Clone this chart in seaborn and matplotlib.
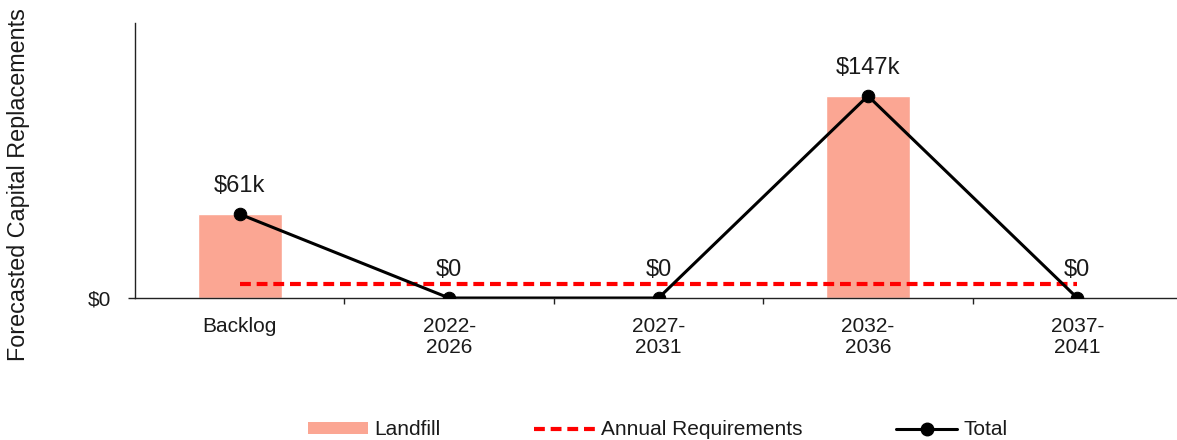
import matplotlib
matplotlib.use("Agg")
import matplotlib.pyplot as plt
from matplotlib.patches import Patch
from matplotlib.lines import Line2D
from matplotlib.ticker import FixedLocator
import numpy as np
import pandas as pd
import seaborn as sns

# Forecast periods and values (thousands of dollars)
categories = ["Backlog", "2022-\n2026", "2027-\n2031", "2032-\n2036", "2037-\n2041"]
landfill = [61, 0, 0, 147, 0]
total = [61, 0, 0, 147, 0]
annual_requirement = 10.4
value_labels = ["$61k", "$0", "$0", "$147k", "$0"]

sns.set_theme(style="white")
plt.rcParams["font.family"] = ["Liberation Sans", "DejaVu Sans"]

fig = plt.figure(figsize=(11.77, 4.4), dpi=100)
ax = fig.add_axes([0.1147, 0.3227, 0.8853, 0.625])

df = pd.DataFrame({"period": categories, "landfill": landfill, "total": total,
                   "pos": np.arange(len(categories))})

bar_color = "#FBA693"
text_color = "#1a1a1a"
sns.barplot(data=df, x="period", y="landfill", color=bar_color, width=0.4,
            saturation=1, ax=ax)

# Annual requirement spanning from first to last period
dash = (0, (2.6, 1.4))
ax.plot([df["pos"].iloc[0], df["pos"].iloc[-1]], [annual_requirement] * 2,
        color="#FF0000", lw=3, linestyle=dash, zorder=3)

sns.lineplot(data=df, x="pos", y="total", color="black", lw=2.2, marker="o",
             markersize=9, markeredgecolor="black", ax=ax, zorder=4)

for pos, val, lab in zip(df["pos"], total, value_labels):
    ax.annotate(lab, (pos, val), xytext=(0, 20), textcoords="offset points",
                ha="center", va="center", fontsize=17, color=text_color)

ax.set_xlim(-0.5, 4.476)
ax.set_ylim(0, 200)
ax.set_yticks([0])
ax.set_yticklabels(["$0"], fontsize=15, color=text_color)
ax.set_xticks(df["pos"])
ax.set_xticklabels(categories, fontsize=15, color=text_color, linespacing=1.12)
ax.xaxis.set_minor_locator(FixedLocator([0.5, 1.5, 2.5, 3.5]))
ax.tick_params(axis="x", which="major", length=0, pad=14)
ax.tick_params(axis="x", which="minor", bottom=True, length=4, width=1, color="#222222")
ax.tick_params(axis="y", left=True, length=5, width=1, color="#222222", pad=12)
ax.set_xlabel("")
ax.set_ylabel("")

for side in ["top", "right"]:
    ax.spines[side].set_visible(False)
for side in ["left", "bottom"]:
    ax.spines[side].set_color("#222222")
    ax.spines[side].set_linewidth(1)

fig.text(0.016, 0.58, "Forecasted Capital Replacements", rotation=90,
         ha="center", va="center", fontsize=16.8, color=text_color)

handles = [
    Patch(facecolor=bar_color, edgecolor="none"),
    Line2D([], [], color="#FF0000", lw=3, linestyle=dash),
    Line2D([], [], color="black", lw=2.2, marker="o", markersize=9),
]
leg = fig.legend(handles, ["Landfill", "Annual Requirements", "Total"], loc="center",
                 bbox_to_anchor=(0.5586, 0.023), ncol=3, frameon=False,
                 prop={"size": 15}, handlelength=2.9, handleheight=0.5,
                 columnspacing=4.5, handletextpad=0.3)
for t in leg.get_texts():
    t.set_color(text_color)

fig.savefig("out.png", dpi=100)
